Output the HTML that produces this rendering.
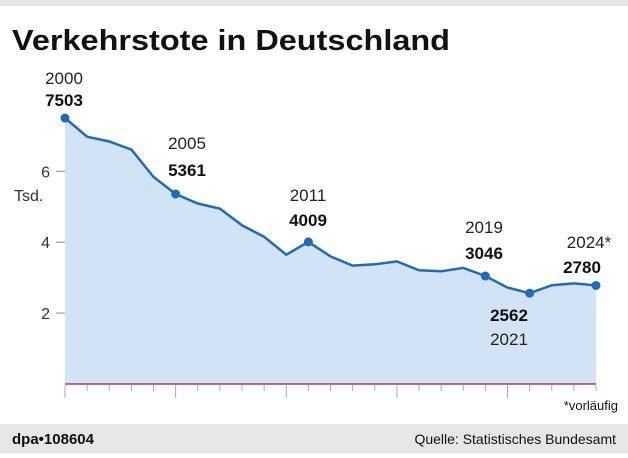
<!DOCTYPE html>
<html><head><meta charset="utf-8"><style>
body{margin:0;width:628px;height:453px;background:#fff;overflow:hidden;font-family:"Liberation Sans",sans-serif}
</style></head><body>
<svg width="628" height="453" viewBox="0 0 628 453" xmlns="http://www.w3.org/2000/svg" font-family="Liberation Sans, sans-serif">
<rect x="0" y="0" width="628" height="6" fill="#e6e6e6"/>
<text x="12" y="50" font-size="29" font-weight="bold" fill="#111" textLength="438" lengthAdjust="spacingAndGlyphs">Verkehrstote in Deutschland</text>
<g id="g"></g>
<rect x="0" y="424" width="628" height="29" fill="#e6e6e6"/>
<text x="12" y="444" font-size="15" font-weight="bold" fill="#111">dpa•108604</text>
<text x="616" y="444" font-size="14" fill="#111" text-anchor="end">Quelle: Statistisches Bundesamt</text>
<text x="618" y="410" font-size="13" fill="#111" text-anchor="end">*vorläufig</text>
</svg>
<script>
const d=[7503,6977,6842,6613,5842,5361,5091,4949,4477,4152,3648,4009,3600,3339,3377,3459,3206,3180,3275,3046,2719,2562,2788,2839,2780];
const X=i=>65+i*(531/24),Y=v=>384-v/1000*35.45;
let s='';
let pts=d.map((v,i)=>X(i).toFixed(1)+','+Y(v).toFixed(1)).join(' ');
s+=`<polygon points="65,384 ${pts} 596,384" fill="#d3e3f6"/>`;
[2,4,6].forEach(v=>{s+=`<line x1="56" x2="65" y1="${Y(v*1000)}" y2="${Y(v*1000)}" stroke="#888"/><text x="50" y="${Y(v*1000)+6}" font-size="16" fill="#333" text-anchor="end">${v}</text>`});
s+=`<text x="14" y="201" font-size="16" fill="#333">Tsd.</text>`;
s+=`<polyline points="${pts}" fill="none" stroke="#1f6bb5" stroke-width="2.5"/>`;
s+=`<line x1="65" x2="596" y1="384" y2="384" stroke="#c0395a" stroke-width="1.5"/>`;
for(let i=0;i<=24;i++){let m=(i%5==0);s+=`<line x1="${X(i)}" x2="${X(i)}" y1="385" y2="${m?398:391}" stroke="#aaa"/>`}
[0,5,11,19,21,24].forEach(i=>s+=`<circle cx="${X(i)}" cy="${Y(d[i])}" r="4.5" fill="#1f6bb5"/>`);
const L=[[0,'2000','7503',64,84,106],[5,'2005','5361',187,149,176],[11,'2011','4009',308,201,226],[19,'2019','3046',484,233,259]];
L.forEach(a=>{s+=`<text x="${a[3]}" y="${a[4]}" font-size="17" fill="#222" text-anchor="middle">${a[1]}</text><text x="${a[3]}" y="${a[5]}" font-size="17" font-weight="bold" fill="#111" text-anchor="middle">${a[2]}</text>`});
s+=`<text x="509" y="321" font-size="17" font-weight="bold" fill="#111" text-anchor="middle">2562</text><text x="509" y="345" font-size="17" fill="#222" text-anchor="middle">2021</text>`;
s+=`<text x="589" y="248" font-size="17" fill="#222" text-anchor="middle">2024*</text><text x="582" y="273" font-size="17" font-weight="bold" fill="#111" text-anchor="middle">2780</text>`;
document.getElementById('g').innerHTML=s;
</script>
</body></html>
